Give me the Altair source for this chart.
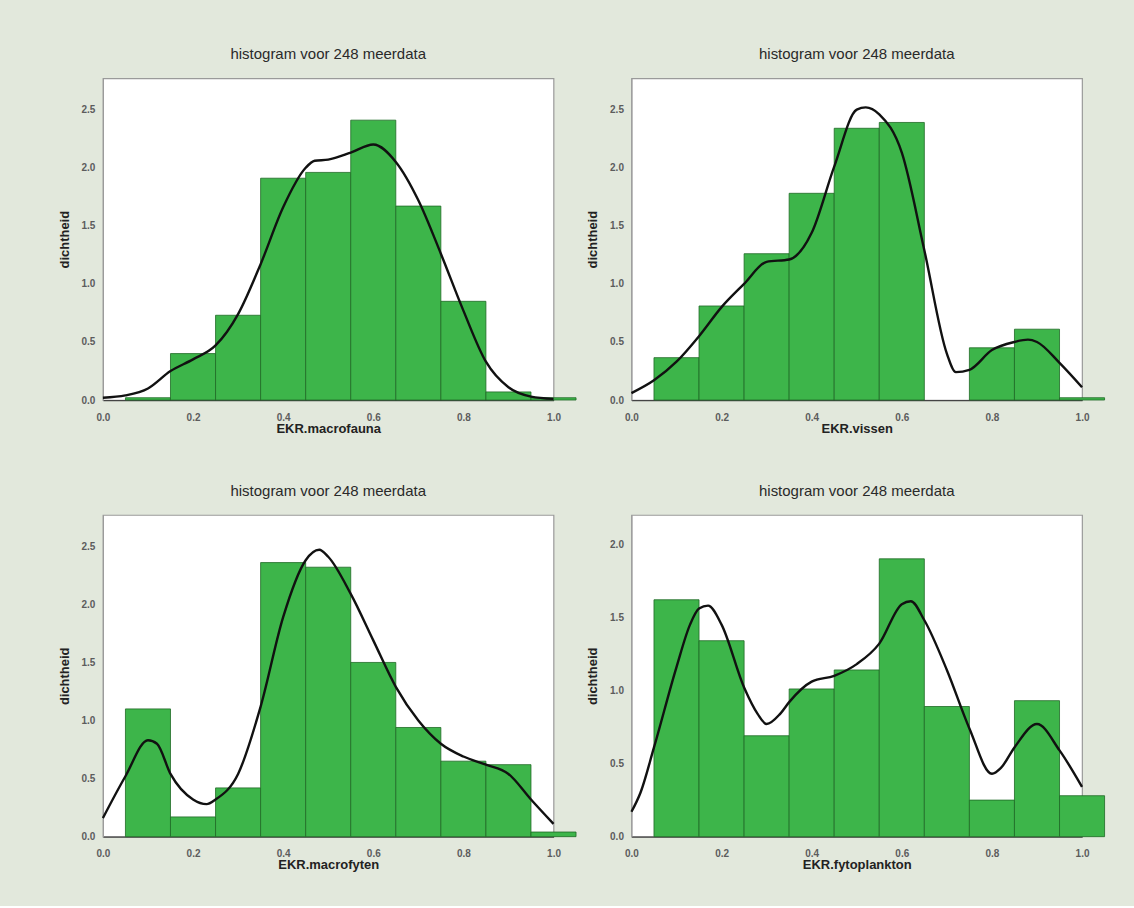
import altair as alt
import pandas as pd

# ---- data ----
BIN_LO = [0.05, 0.15, 0.25, 0.35, 0.45, 0.55, 0.65, 0.75, 0.85, 0.95]
BIN_HI = [0.15, 0.25, 0.35, 0.45, 0.55, 0.65, 0.75, 0.85, 0.95, 1.05]

X_TICKS = [0.0, 0.2, 0.4, 0.6, 0.8, 1.0]
Y_TICKS_A = [0.0, 0.5, 1.0, 1.5, 2.0, 2.5]
Y_TICKS_B = [0.0, 0.5, 1.0, 1.5, 2.0]

TITLE = "histogram voor 248 meerdata"
Y_LABEL = "dichtheid"

# macrofauna
MF_BARS = [0.02, 0.40, 0.73, 1.91, 1.96, 2.41, 1.67, 0.85, 0.07, 0.02]
MF_CX = [0.0, 0.05, 0.1, 0.15, 0.2, 0.25, 0.3, 0.35, 0.4, 0.45, 0.47, 0.5, 0.55, 0.6,
         0.65, 0.7, 0.75, 0.8, 0.85, 0.9, 0.95, 1.0]
MF_CY = [0.02, 0.04, 0.10, 0.25, 0.35, 0.47, 0.74, 1.17, 1.66, 2.00, 2.06, 2.07, 2.13, 2.20,
         2.05, 1.72, 1.26, 0.77, 0.33, 0.11, 0.03, 0.01]

# vissen
VI_BARS = [0.365, 0.81, 1.26, 1.78, 2.34, 2.39, 0.0, 0.45, 0.61, 0.02]
VI_CX = [0.0, 0.05, 0.1, 0.15, 0.2, 0.25, 0.3, 0.35, 0.4, 0.45, 0.5, 0.52, 0.55, 0.6,
         0.65, 0.7, 0.72, 0.75, 0.8, 0.85, 0.88, 0.9, 0.95, 1.0]
VI_CY = [0.06, 0.17, 0.33, 0.55, 0.80, 1.00, 1.19, 1.21, 1.44, 2.01, 2.50, 2.52, 2.46, 2.13,
         1.29, 0.40, 0.24, 0.26, 0.43, 0.50, 0.52, 0.50, 0.32, 0.11]

# macrofyten
MY_BARS = [1.10, 0.17, 0.42, 2.36, 2.32, 1.50, 0.94, 0.65, 0.62, 0.04]
MY_CX = [0.0, 0.05, 0.1, 0.12, 0.15, 0.2, 0.23, 0.25, 0.3, 0.35, 0.4, 0.45, 0.48, 0.5,
         0.55, 0.6, 0.65, 0.7, 0.75, 0.8, 0.85, 0.9, 0.95, 1.0]
MY_CY = [0.16, 0.52, 0.83, 0.80, 0.54, 0.32, 0.28, 0.32, 0.54, 1.12, 1.89, 2.38, 2.47, 2.41,
         2.09, 1.69, 1.29, 1.00, 0.80, 0.69, 0.62, 0.54, 0.32, 0.11]

# fytoplankton
FY_BARS = [1.62, 1.34, 0.69, 1.01, 1.14, 1.90, 0.89, 0.25, 0.93, 0.28]
FY_CX = [0.0, 0.02, 0.05, 0.1, 0.13, 0.15, 0.17, 0.2, 0.25, 0.28, 0.3, 0.33, 0.35, 0.4,
         0.45, 0.5, 0.55, 0.6, 0.62, 0.65, 0.7, 0.75, 0.8, 0.82, 0.85, 0.9, 0.95, 1.0]
FY_CY = [0.17, 0.30, 0.61, 1.16, 1.45, 1.56, 1.58, 1.45, 1.02, 0.84, 0.77, 0.84, 0.92, 1.06,
         1.10, 1.18, 1.32, 1.59, 1.61, 1.48, 1.14, 0.74, 0.43, 0.47, 0.61, 0.77, 0.59, 0.34]

# ---- style ----
BG = "#e2e8dc"
GREEN = "#3db54a"
DARK_GREEN = "#1f6a26"
FONT = "Liberation Sans"
W, H = 451, 322


def panel(xlabel, bars, cx, cy, ymax, yticks):
    bdf = pd.DataFrame({"lo": BIN_LO, "hi": BIN_HI, "h": bars})
    cdf = pd.DataFrame({"x": cx, "y": cy})
    xs = alt.Scale(domain=[0, 1], nice=False, zero=False)
    ys = alt.Scale(domain=[0, ymax], nice=False)
    xaxis = alt.Axis(values=X_TICKS, format=".1f", title=xlabel, ticks=False, grid=False,
                     domainColor="#444444", domainWidth=1.2, labelFlush=False,
                     labelFontSize=10, labelFontWeight="bold", labelColor="#5c5c5c",
                     labelPadding=12,
                     titleFontSize=13, titleFontWeight="bold", titleColor="#222222",
                     titlePadding=0, labelFont=FONT, titleFont=FONT)
    yaxis = alt.Axis(values=yticks, format=".1f", title=Y_LABEL, ticks=False, grid=False,
                     domainColor="#9a9a9a", labelFontSize=10, labelFontWeight="bold",
                     labelColor="#5c5c5c", labelFlush=False,
                     labelPadding=8, titleFontSize=13, titleFontWeight="bold",
                     titleColor="#222222", titlePadding=10, labelFont=FONT, titleFont=FONT)
    rects = alt.Chart(bdf).transform_filter("datum.h > 0").mark_rect(
        color=GREEN, stroke=DARK_GREEN, strokeWidth=0.8, clip=False
    ).encode(
        x=alt.X("lo:Q", scale=xs, axis=xaxis),
        x2="hi:Q",
        y=alt.Y("h:Q", scale=ys, axis=yaxis),
        y2=alt.datum(0),
    )
    line = alt.Chart(cdf).mark_line(color="#111111", strokeWidth=2.4,
                                    interpolate="monotone").encode(
        x=alt.X("x:Q", scale=xs),
        y=alt.Y("y:Q", scale=ys),
    )
    return alt.layer(rects, line).properties(
        width=W, height=H,
        title=alt.TitleParams(TITLE, fontSize=15, fontWeight="normal", color="#2a2a2a",
                              font=FONT, offset=16, anchor="middle"),
    )


p1 = panel("EKR.macrofauna", MF_BARS, MF_CX, MF_CY, 2.77, Y_TICKS_A)
p2 = panel("EKR.vissen", VI_BARS, VI_CX, VI_CY, 2.77, Y_TICKS_A)
p3 = panel("EKR.macrofyten", MY_BARS, MY_CX, MY_CY, 2.77, Y_TICKS_A)
p4 = panel("EKR.fytoplankton", FY_BARS, FY_CX, FY_CY, 2.2, Y_TICKS_B)

chart = alt.concat(
    p1, p2, p3, p4, columns=2, bounds="flush",
    spacing={"row": 115, "column": 78},
).resolve_scale(x="independent", y="independent").properties(
    padding={"left": 57, "top": 46, "right": 28, "bottom": 33},
).configure(background=BG).configure_view(fill="white", stroke="#9a9a9a", strokeWidth=1.2)

chart.save("out.html", embed_options={"renderer": "svg", "actions": False})
